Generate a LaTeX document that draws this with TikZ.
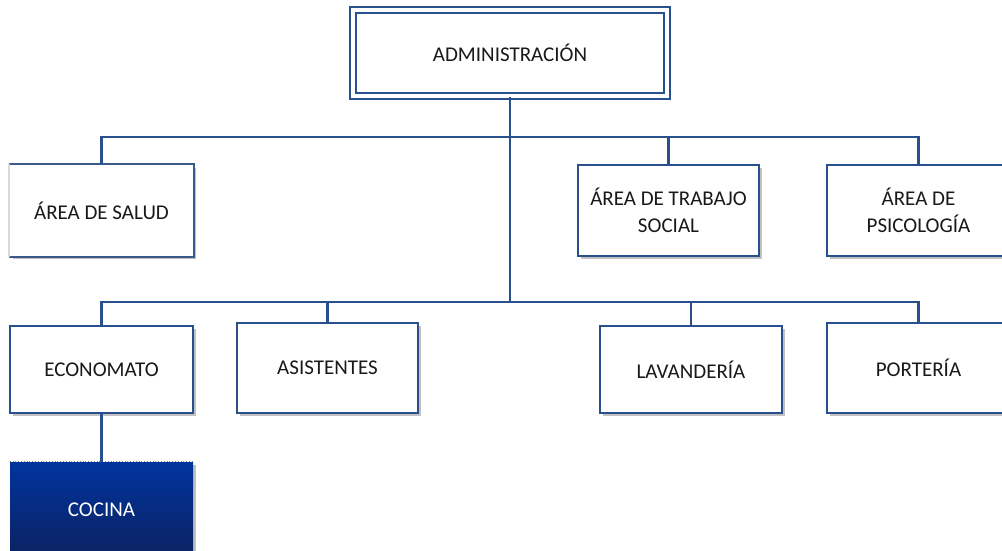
\documentclass[tikz,border=0pt]{standalone}
\usepackage{fontspec}
\setmainfont{Carlito}
\usetikzlibrary{shadows}
\definecolor{lineblue}{RGB}{40,80,140}
\definecolor{cotop}{RGB}{0,52,158}
\definecolor{cobot}{RGB}{12,34,96}
\tikzset{
  conn/.style={draw=lineblue, line width=2.8pt},
  shad/.style={drop shadow={shadow xshift=3pt, shadow yshift=-3pt, opacity=0.4, fill=black!60}},
  box/.style={draw=lineblue, line width=2.1pt, fill=white, shad, inner sep=0pt, align=center,
    font=\fontsize{21}{27}\selectfont, text=black!90},
}
\begin{document}
\begin{tikzpicture}[x=1pt,y=-1pt]
\clip (0,0) rectangle (1002,550);
\fill[white] (0,0) rectangle (1002,550);
% coordinates of buses
\coordinate (j1) at (510,137);
\coordinate (j2) at (510,302);
% nodes
\node[box, double=white, double distance=4pt, line width=1.8pt, minimum width=314pt, minimum height=86pt] (admin) at (510,53) {ADMINISTRACIÓN};
\node[box, draw=none, minimum width=183pt, minimum height=91pt] (salud) at (101.5,210.5) {ÁREA DE SALUD};
\node[box, minimum width=181pt, minimum height=91pt] (trabajo) at (668.5,210.5) {ÁREA DE TRABAJO\\SOCIAL};
\node[box, minimum width=183pt, minimum height=91pt] (psico) at (918.5,210.5) {ÁREA DE\\PSICOLOGÍA};
\node[box, minimum width=183pt, minimum height=87pt] (econ) at (101.5,369.5) {ECONOMATO};
\node[box, minimum width=181pt, minimum height=90pt] (asis) at (327.5,368) {ASISTENTES};
\node[box, minimum width=182pt, minimum height=87pt] (lav) at (691,369.5) {LAVANDERÍA};
\node[box, minimum width=183pt, minimum height=90pt] (port) at (918.5,368) {PORTERÍA};
\node[inner sep=0pt, minimum width=183pt, minimum height=96pt, top color=cotop, bottom color=cobot, shad,
  font=\fontsize{21}{27}\selectfont, text=white] (cocina) at (101.5,510) {COCINA};
% salud border (light left edge)
\draw[lineblue!80!gray, line width=1.8pt] (salud.north west) -- (salud.north east) -- (salud.south east) -- (salud.south west);
\draw[black!15, line width=1.2pt] (salud.south west) -- (salud.north west);
% dotted top edge of cocina
\draw[black!45, line width=0.8pt, dotted] (cocina.north west) -- (cocina.north east);
% connectors
\draw[conn] (admin.south) -- (j2);
\draw[conn] (salud.north) |- (j1) -| (psico.north);
\draw[conn] (trabajo.north) |- (j1);
\draw[conn] (econ.north) |- (j2) -| (port.north);
\draw[conn] (asis.north) |- (j2);
\draw[conn] (lav.north) |- (j2);
\draw[conn] (econ.south) -- (cocina.north);
\end{tikzpicture}
\end{document}
